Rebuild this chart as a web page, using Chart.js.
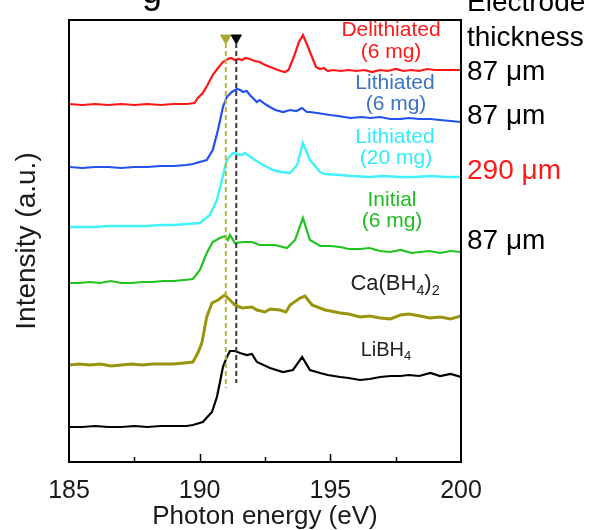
<!DOCTYPE html>
<html><head><meta charset="utf-8">
<script src="https://cdn.jsdelivr.net/npm/chart.js@4.4.0/dist/chart.umd.min.js"></script>
<style>html,body{margin:0;padding:0;background:#fff;overflow:hidden}</style>
</head><body>
<canvas id="c" width="589" height="530"></canvas>
<script>
// ---- data (photon energy in eV, intensity in arbitrary offset units) ----
const xTickValues = [185, 190, 195, 200];
const minorTickValues = [187.5, 192.5, 197.5];
const edgeMarkerEnergies = [191.0, 191.4];

const delithE = [185.0,185.5,186.0,186.5,187.0,187.5,188.0,188.5,189.0,189.5,189.8,189.93,190.12,190.3,190.5,190.7,190.89,191.08,191.2,191.35,191.5,191.62,191.75,191.92,192.1,192.3,192.5,192.7,192.9,193.1,193.27,193.4,193.6,193.8,193.95,194.1,194.3,194.45,194.61,194.75,194.9,195.1,195.4,195.7,196.0,196.3,196.6,196.9,197.2,197.5,197.8,198.1,198.4,198.7,199.0,199.3,199.6,200.0];
const delithI = [358,357,358,357,358,357,358,357,358,358,359,364,369,377,387,394,400,403,404,402,403,402,404,403,401,400,397,395,393,391,390,392,405,420,427,418,405,395,393,394,391,392,391,392,391,392,390,392,391,393,391,392,391,393,392,392,392,392];

const lith6E = [185.0,185.5,186.0,186.5,187.0,187.5,188.0,188.5,189.0,189.5,189.74,190.0,190.27,190.5,190.7,190.85,190.89,191.04,191.23,191.43,191.55,191.66,191.8,191.92,192.19,192.3,192.5,192.69,192.9,193.19,193.46,193.7,193.92,194.1,194.22,194.5,194.99,195.3,195.76,196.2,196.53,196.9,197.3,197.68,198.0,198.4,198.83,199.2,199.6,200.0];
const lith6I = [295,294,295,295,294,295,295,296,296,297,298,300,302,312,332,350,355,365,370,373,372,370,371,367,360,362,358,355,352,350,352,351,354,350,350,349,347,346,344,345,344,345,343,343,344,343,343,342,341,340];

const lith20E = [185.0,185.5,186.0,186.5,187.0,187.5,188.0,188.5,189.0,189.5,190.01,190.39,190.66,190.85,191.04,191.27,191.45,191.62,191.73,191.9,192.0,192.3,192.5,192.81,193.1,193.46,193.73,193.95,194.22,194.61,194.8,195.38,195.8,196.53,197.0,197.68,198.2,198.83,199.4,200.0];
const lith20I = [235,235,235,236,236,236,236,237,237,238,239,247,262,282,302,309,308,307,309,306,304,299,296,292,290,289,297,319,302,290,288,287,286,285,286,285,285,286,285,285];

const initialE = [185.0,185.4,185.8,186.2,186.6,187.0,187.4,187.8,188.2,188.6,189.0,189.4,189.74,190.01,190.27,190.5,190.77,190.96,191.08,191.16,191.35,191.66,192.0,192.3,192.88,193.34,193.65,193.95,194.22,194.61,195.0,195.38,195.7,196.14,196.5,196.9,197.29,197.7,198.1,198.44,198.8,199.2,199.6,200.0];
const initialI = [179,179,180,179,181,179,179,180,180,181,181,182,183,192,209,220,224,226,222,227,219,220,220,217,217,214,222,244,222,216,216,215,213,213,214,211,210,212,209,210,211,209,211,210];

const caE = [185.0,185.4,185.8,186.2,186.6,187.0,187.4,187.8,188.2,188.6,189.0,189.4,189.74,189.93,190.08,190.12,190.27,190.47,190.7,190.96,191.08,191.35,191.62,192.0,192.19,192.5,192.7,193.07,193.3,193.46,193.84,194.03,194.3,194.8,195.0,195.38,195.7,196.14,196.5,196.91,197.3,197.68,198.0,198.44,198.8,199.21,199.6,200.0];
const caI = [97,98,97,98,96,97,98,97,98,98,98,99,100,109,119,124,145,159,162,167,164,157,154,155,152,150,153,152,150,157,164,166,157,152,151,149,148,145,146,144,143,147,148,146,144,145,143,146];

const libhE = [185.0,185.5,186.0,186.5,187.0,187.5,188.0,188.5,189.0,189.5,189.74,190.12,190.47,190.66,190.77,190.89,191.04,191.16,191.35,191.54,191.81,192.0,192.19,192.69,193.19,193.57,193.92,194.22,194.61,194.9,195.38,195.7,196.14,196.5,196.91,197.3,197.68,198.0,198.4,198.83,199.2,199.6,200.0];
const libhI = [35,35,36,35,35,36,35,36,36,36,37,40,50,65,79,95,105,111,111,109,107,108,100,94,90,92,105,92,89,87,85,84,82,83,85,86,86,87,86,89,86,88,85];

// ---- build ----
const pts = (E, I) => E.map((x, i) => ({x, y: I[i]}));
const FONT = '"Liberation Sans", Arial, Helvetica, sans-serif';

function series(E, I, color, width) {
  return {data: pts(E, I), borderColor: color, borderWidth: width, pointRadius: 0, fill: false, tension: 0};
}
function dashLine(x, yTop, yBot, color) {
  return {data: [{x, y: yTop}, {x, y: yBot}], borderColor: color, borderWidth: 2, borderDash: [5, 3], pointRadius: 0, fill: false};
}
function marker(x, y, color) {
  return {data: [{x, y}], showLine: false, pointStyle: 'triangle', rotation: 180, pointRadius: 6, pointBackgroundColor: color, pointBorderColor: color, borderColor: color};
}

const datasets = [
  dashLine(edgeMarkerEnergies[0], 419, 74, '#b9b53c'),
  dashLine(edgeMarkerEnergies[1], 419, 79, '#3a3a3a'),
  series(libhE, libhI, '#000000', 2.2),
  series(caE, caI, '#9a940e', 3),
  series(initialE, initialI, '#1fc41f', 2.2),
  series(lith20E, lith20I, '#3ff2fb', 2.4),
  series(lith6E, lith6I, '#2251ee', 2.2),
  series(delithE, delithI, '#ff1616', 2.2),
  marker(edgeMarkerEnergies[0], 424, '#aaa536'),
  marker(edgeMarkerEnergies[1], 424, '#000000'),
];

function drawRich(ctx, parts, x, y, color, size) {
  let total = 0;
  const widths = parts.map(([t, sub]) => {
    ctx.font = (sub ? size * 0.65 : size) + 'px ' + FONT;
    const w = ctx.measureText(t).width; total += w; return w;
  });
  let cx = x - total / 2;
  ctx.fillStyle = color; ctx.textAlign = 'left'; ctx.textBaseline = 'middle';
  parts.forEach(([t, sub], i) => {
    ctx.font = (sub ? size * 0.65 : size) + 'px ' + FONT;
    ctx.fillText(t, cx, sub ? y + size * 0.3 : y);
    cx += widths[i];
  });
}

const decor = {
  id: 'decor',
  afterDatasetsDraw(chart) {
    const {ctx, chartArea: a, scales: {x}} = chart;
    ctx.save();
    ctx.strokeStyle = '#000'; ctx.lineWidth = 2;
    ctx.strokeRect(a.left, a.top, a.right - a.left, a.bottom - a.top);
    ctx.lineWidth = 1.5;
    xTickValues.slice(1, -1).forEach(v => {
      const px = Math.round(x.getPixelForValue(v)) + 0.5;
      ctx.beginPath(); ctx.moveTo(px, a.bottom); ctx.lineTo(px, a.bottom - 8); ctx.stroke();
    });
    minorTickValues.forEach(v => {
      const px = Math.round(x.getPixelForValue(v)) + 0.5;
      ctx.beginPath(); ctx.moveTo(px, a.bottom); ctx.lineTo(px, a.bottom - 5); ctx.stroke();
    });
    ctx.restore();
  },
  afterDraw(chart) {
    const ctx = chart.ctx;
    ctx.save();
    const L = 21;
    drawRich(ctx, [['Delithiated', 0]], 391, 30, '#ff1a1a', L);
    drawRich(ctx, [['(6 mg)', 0]], 391, 52, '#ff1a1a', L);
    drawRich(ctx, [['Lithiated', 0]], 395, 83, '#3a72c4', L);
    drawRich(ctx, [['(6 mg)', 0]], 396, 104, '#3a72c4', L);
    drawRich(ctx, [['Lithiated', 0]], 395, 137, '#33ecfa', L);
    drawRich(ctx, [['(20 mg)', 0]], 396, 158, '#33ecfa', L);
    drawRich(ctx, [['Initial', 0]], 392, 200, '#22bb22', L);
    drawRich(ctx, [['(6 mg)', 0]], 392, 221, '#22bb22', L);
    drawRich(ctx, [['Ca(BH', 0], ['4', 1], [')', 0], ['2', 1]], 395, 284, '#222', 22);
    drawRich(ctx, [['LiBH', 0], ['4', 1]], 386, 350, '#222', 20);
    ctx.textAlign = 'left'; ctx.textBaseline = 'middle';
    ctx.font = '28px ' + FONT;
    ctx.fillStyle = '#000';
    ctx.fillText('Electrode', 467, 3);
    ctx.fillText('thickness', 467, 38);
    ctx.fillText('87 μm', 467, 72);
    ctx.fillText('87 μm', 467, 116);
    ctx.fillStyle = '#ff1a1a';
    ctx.fillText('290 μm', 467, 171);
    ctx.fillStyle = '#000';
    ctx.fillText('87 μm', 467, 241);
    ctx.font = '36px ' + FONT;
    ctx.textAlign = 'center'; ctx.textBaseline = 'alphabetic';
    ctx.fillText('g', 152, 3);
    ctx.restore();
  }
};

new Chart(document.getElementById('c'), {
  type: 'line',
  data: {datasets},
  options: {
    responsive: false, animation: false, devicePixelRatio: 1,
    layout: {padding: {left: 13, top: 20, right: 128, bottom: 0}},
    plugins: {legend: {display: false}, tooltip: {enabled: false}},
    scales: {
      x: {
        type: 'linear', min: 185, max: 200,
        afterBuildTicks: s => { s.ticks = xTickValues.map(v => ({value: v})); },
        ticks: {color: '#1a1a1a', padding: 17, font: {size: 25, family: FONT, lineHeight: 1}, maxRotation: 0},
        grid: {display: false, drawTicks: false},
        border: {display: false},
        title: {display: true, text: 'Photon energy (eV)', color: '#1a1a1a', font: {size: 26, family: FONT, lineHeight: 1}, padding: {top: 1, bottom: 0}},
        afterFit: s => { s.height = 68; }
      },
      y: {
        type: 'linear', min: 0, max: 442,
        ticks: {display: false},
        grid: {display: false, drawTicks: false},
        border: {display: false},
        title: {display: true, text: 'Intensity (a.u.)', color: '#1a1a1a', font: {size: 28, family: FONT, lineHeight: 1}, padding: {top: 0, bottom: 0}},
        afterFit: s => { s.width = 56; }
      }
    }
  },
  plugins: [decor]
});
</script>
</body></html>
